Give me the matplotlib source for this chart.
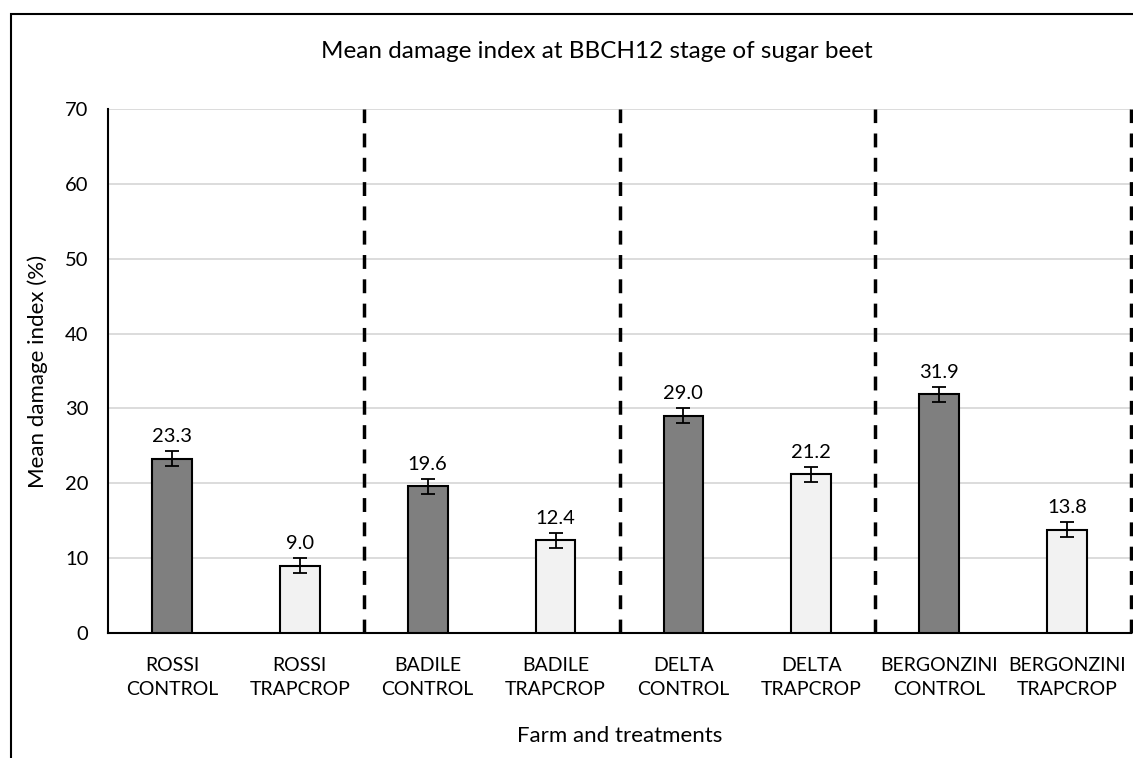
import matplotlib.pyplot as plt
from matplotlib.patches import Rectangle

# data
categories = ['ROSSI\nCONTROL', 'ROSSI\nTRAPCROP', 'BADILE\nCONTROL', 'BADILE\nTRAPCROP',
              'DELTA\nCONTROL', 'DELTA\nTRAPCROP', 'BERGONZINI\nCONTROL', 'BERGONZINI\nTRAPCROP']
damage = [23.3, 9.0, 19.6, 12.4, 29.0, 21.2, 31.9, 13.8]
errors = [1.0, 1.0, 1.0, 1.0, 1.0, 1.0, 1.0, 1.0]
bar_colors = ['#7f7f7f', '#f2f2f2'] * 4
separators = [1.5, 3.5, 5.5, 7.5]

plt.rcParams['font.family'] = ['Lato', 'DejaVu Sans']

W, H = 1133, 758
fig = plt.figure(figsize=(W / 100, H / 100), dpi=100)
ax = fig.add_axes([108 / W, 1 - 633 / H, (1131 - 108) / W, (633 - 109) / H])

x = range(len(categories))
ax.bar(x, damage, width=0.31, color=bar_colors, edgecolor='black', linewidth=1.5, zorder=3)
ax.errorbar(x, damage, yerr=errors, fmt='none', ecolor='black', elinewidth=1.3,
            capsize=5, capthick=1.3, zorder=4)
for xi, v, e in zip(x, damage, errors):
    ax.text(xi, v + e + 0.8, f'{v:.1f}', ha='center', va='bottom', fontsize=14.5)

for s in separators:
    ax.axvline(s, color='black', linestyle=(0, (4, 3)), linewidth=2.5, zorder=2, clip_on=False)

ax.set_xlim(-0.5, 7.5)
ax.set_ylim(0, 70)
ax.set_yticks(range(0, 71, 10))
ax.set_xticks(list(x))
ax.set_xticklabels(categories, fontsize=14, linespacing=1.5)
ax.tick_params(axis='y', labelsize=14.5, length=0, pad=14)
ax.tick_params(axis='x', length=0, pad=17)
ax.yaxis.grid(True, color='#d9d9d9', linewidth=1.3, zorder=0)
for side in ['top', 'right']:
    ax.spines[side].set_visible(False)
ax.spines['left'].set_linewidth(1.5)
ax.spines['bottom'].set_linewidth(1.5)

ax.set_ylabel('Mean damage index (%)', fontsize=16, labelpad=12)
fig.text(620 / W, 1 - 736 / H, 'Farm and treatments', ha='center', va='center', fontsize=16)
fig.text(597 / W, 1 - 52 / H, 'Mean damage index at BBCH12 stage of sugar beet',
         ha='center', va='center', fontsize=17.5)

# outer chart frame (runs off the right and bottom edges)
fig.patches.append(Rectangle((11 / W, -0.05), 1.2, 1 - 14 / H + 0.05,
                             transform=fig.transFigure, fill=False,
                             edgecolor='black', linewidth=1.5))

fig.savefig('out.png', dpi=100)
